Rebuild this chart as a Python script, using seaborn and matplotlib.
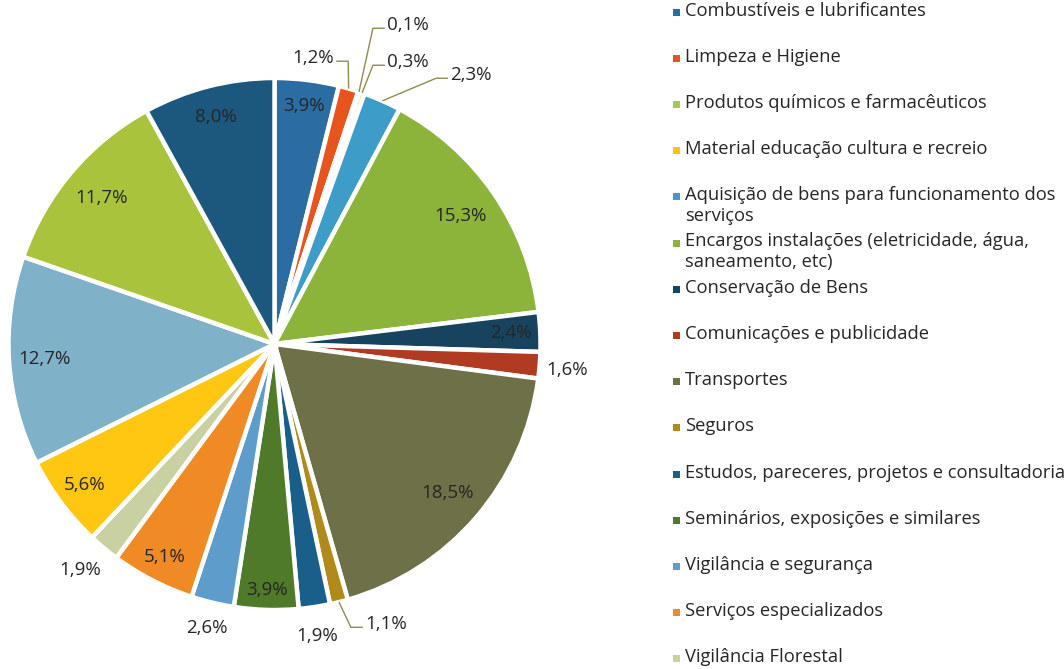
import numpy as np
import matplotlib
matplotlib.use("Agg")
import matplotlib.pyplot as plt
import seaborn as sns

# ---------------- data ----------------
categories = [
    "Combustíveis e lubrificantes",
    "Limpeza e Higiene",
    "Produtos químicos e farmacêuticos",
    "Material educação cultura e recreio",
    "Aquisição de bens para funcionamento dos\nserviços",
    "Encargos instalações (eletricidade, água,\nsaneamento, etc)",
    "Conservação de Bens",
    "Comunicações e publicidade",
    "Transportes",
    "Seguros",
    "Estudos, pareceres, projetos e consultadoria",
    "Seminários, exposições e similares",
    "Vigilância e segurança",
    "Serviços especializados",
    "Vigilância Florestal",
    "_hidden16", "_hidden17", "_hidden18", "_hidden19",   # legend cut off in the source
]
values = [3.9, 1.2, 0.1, 0.3, 2.3, 15.3, 2.4, 1.6, 18.5, 1.1,
          1.9, 3.9, 2.6, 5.1, 1.9, 5.6, 12.7, 11.7, 8.0]
value_labels = ["3,9%", "1,2%", "0,1%", "0,3%", "2,3%", "15,3%", "2,4%", "1,6%",
                "18,5%", "1,1%", "1,9%", "3,9%", "2,6%", "5,1%", "1,9%", "5,6%",
                "12,7%", "11,7%", "8,0%"]
n_legend = 15  # entries visible in the source image

# ---------------- style ----------------
colors = ["#2B6CA3", "#E8541E", "#A6C65A", "#FFC20E", "#3D9CC8", "#8CB33A",
          "#17435E", "#B03A22", "#6E7148", "#B08A1A", "#1A5F8A", "#4E7A2A",
          "#5E9CCB", "#F08A24", "#C9D1A2", "#FFC612", "#7FB1C9", "#A9C43C",
          "#1C577E"]
# label placement: ("in", radius) or ("out", x, y, leader)
label_layout = [
    ("in", 0.90), ("out", 0.145, 1.075, True), ("out", 0.502, 1.199, True),
    ("out", 0.502, 1.060, True), ("out", 0.739, 1.011, True), ("in", 0.85),
    ("in", 0.89), ("out", 1.100, -0.098, False), ("in", 0.86),
    ("out", 0.419, -1.053, True), ("out", 0.160, -1.098, False), ("in", 0.925),
    ("out", -0.254, -1.068, False), ("in", 0.90), ("out", -0.731, -0.850, False),
    ("in", 0.89), ("in", 0.865), ("in", 0.85), ("in", 0.88),
]

sns.set_theme(style="white")
plt.rcParams["font.family"] = ["Open Sans", "DejaVu Sans"]
text_color = "#262626"
leader_color = "#8E8C4F"

W, H = 1064, 669
fig = plt.figure(figsize=(W / 100, H / 100), dpi=100)
cx, cy, R = 274.5, 344, 266
ax = fig.add_axes([(cx - R) / W, (H - cy - R) / H, 2 * R / W, 2 * R / H])

wedges, _ = ax.pie(values, colors=sns.color_palette(colors), startangle=90,
                   counterclock=False, radius=1.0,
                   wedgeprops=dict(edgecolor="white", linewidth=3.2))
ax.set_xlim(-1, 1)
ax.set_ylim(-1, 1)
ax.set_aspect("equal")
ax.axis("off")

pie_fs = 13.5
half_w = 21 / R   # approx. half width of a "0,0%" label in data units
for w, lab, lay in zip(wedges, value_labels, label_layout):
    mid = np.deg2rad((w.theta1 + w.theta2) / 2)
    if lay[0] == "in":
        r = lay[1]
        ax.text(r * np.cos(mid), r * np.sin(mid), lab, ha="center", va="center",
                fontsize=pie_fs, color=text_color)
    else:
        _, lx, ly, leader = lay
        ax.text(lx, ly, lab, ha="center", va="center", fontsize=pie_fs,
                color=text_color, clip_on=False)
        if leader:
            ex, ey = np.cos(mid), np.sin(mid)
            side = -1 if lx > ex else 1
            tx = lx + side * (half_w + 0.008)
            elbow = tx + side * 0.045
            yl = ly - 0.012
            ax.plot([ex, elbow, tx], [ey, yl, yl], color=leader_color, lw=1.0,
                    clip_on=False, solid_capstyle="butt")

# ---------------- legend (fixed slot spacing like the source) ----------------
leg_x_marker, leg_x_text = 673, 685
leg_y0, leg_step = 12, 46.2
leg_fs = 13.2
for i in range(n_legend):
    yc = leg_y0 + i * leg_step
    fig.patches.append(plt.Rectangle((leg_x_marker / W, (H - yc - 3.5) / H),
                                     7 / W, 7 / H, transform=fig.transFigure,
                                     facecolor=colors[i], edgecolor="none"))
    fig.text(leg_x_text / W, (H - yc + 10.5) / H, categories[i], ha="left",
             va="top", fontsize=leg_fs, color=text_color, linespacing=1.2)

fig.savefig("out.png", dpi=100, facecolor="white")
